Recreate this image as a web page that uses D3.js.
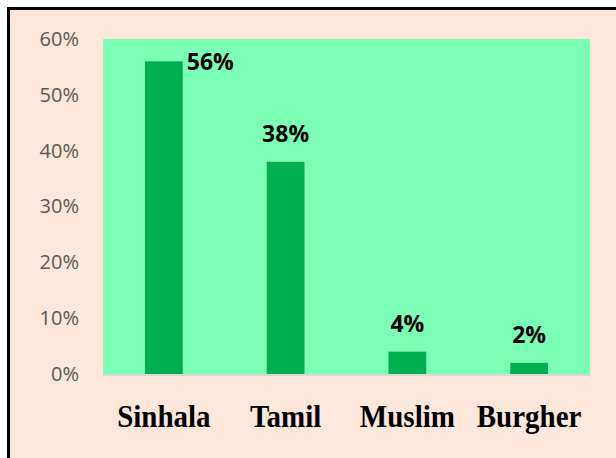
<!DOCTYPE html>
<html>
<head>
<meta charset="utf-8">
<script src="https://cdn.jsdelivr.net/npm/d3@7"></script>
<style>
  body { margin: 0; background: #fff; }
  svg { display: block; }
</style>
</head>
<body>
<div class="chart"></div>
<script>
var groups = ["Sinhala", "Tamil", "Muslim", "Burgher"];
var shares = [0.56, 0.38, 0.04, 0.02];
var yTicks = [0, 0.1, 0.2, 0.3, 0.4, 0.5, 0.6];

var width = 616, height = 458;
var plot = {left: 103, right: 590, top: 39, bottom: 374};

var svg = d3.select(".chart").append("svg")
    .attr("width", width)
    .attr("height", height);

// chart area with black frame (right and bottom run off the page)
svg.append("rect")
    .attr("x", 8.5).attr("y", 8.5)
    .attr("width", width + 20).attr("height", height + 20)
    .attr("fill", "#FCE7DA")
    .attr("stroke", "#000")
    .attr("stroke-width", 3);

// plot area
svg.append("rect")
    .attr("x", plot.left).attr("y", plot.top)
    .attr("width", plot.right - plot.left)
    .attr("height", plot.bottom - plot.top)
    .attr("fill", "#7BFFB7");

var x = d3.scaleBand()
    .domain(groups)
    .range([plot.left, plot.right])
    .paddingInner(0.69)
    .paddingOuter(0.345);

var y = d3.scaleLinear()
    .domain([0, 0.6])
    .range([plot.bottom, plot.top]);

// y axis labels
var yAxis = svg.append("g")
    .attr("transform", "translate(79,0)")
    .call(d3.axisLeft(y).tickValues(yTicks).tickFormat(d3.format(".0%")).tickSize(0).tickPadding(0));
yAxis.select(".domain").remove();
yAxis.selectAll("text")
    .attr("fill", "#595959")
    .style("font-family", "'Open Sans', sans-serif")
    .style("font-size", "20px");

//bars
svg.append("g").selectAll("rect")
    .data(groups)
    .enter().append("rect")
    .attr("x", function(d) { return x(d); })
    .attr("y", function(d, i) { return y(shares[i]); })
    .attr("width", x.bandwidth())
    .attr("height", function(d, i) { return y(0) - y(shares[i]); })
    .attr("fill", "#00AF50");

// x axis line
svg.append("line")
    .attr("x1", plot.left).attr("x2", plot.right)
    .attr("y1", plot.bottom + 1).attr("y2", plot.bottom + 1)
    .attr("stroke", "#D9D9D9")
    .attr("stroke-width", 2);

// value labels (the tallest one sits beside its bar)
svg.append("g").selectAll("text")
    .data(groups)
    .enter().append("text")
    .attr("x", function(d, i) {
        return shares[i] > 0.5 ? x(d) + x.bandwidth() + 4 : x(d) + x.bandwidth() / 2;
    })
    .attr("y", function(d, i) {
        return shares[i] > 0.5 ? y(shares[i]) + 9 : y(shares[i]) - 20;
    })
    .attr("text-anchor", function(d, i) { return shares[i] > 0.5 ? "start" : "middle"; })
    .style("font-family", "'Open Sans', sans-serif")
    .style("font-weight", "bold")
    .style("font-size", "23px")
    .attr("fill", "#000")
    .text(function(d, i) { return d3.format(".0%")(shares[i]); });

// category labels
svg.append("g").selectAll("text")
    .data(groups)
    .enter().append("text")
    .attr("transform", function(d) {
        return "translate(" + (x(d) + x.bandwidth() / 2) + ",427) scale(1,1.1)";
    })
    .attr("text-anchor", "middle")
    .style("font-family", "'Liberation Serif', 'Times New Roman', serif")
    .style("font-weight", "bold")
    .style("font-size", "29px")
    .attr("fill", "#000")
    .text(function(d) { return d; });
</script>
</body>
</html>
